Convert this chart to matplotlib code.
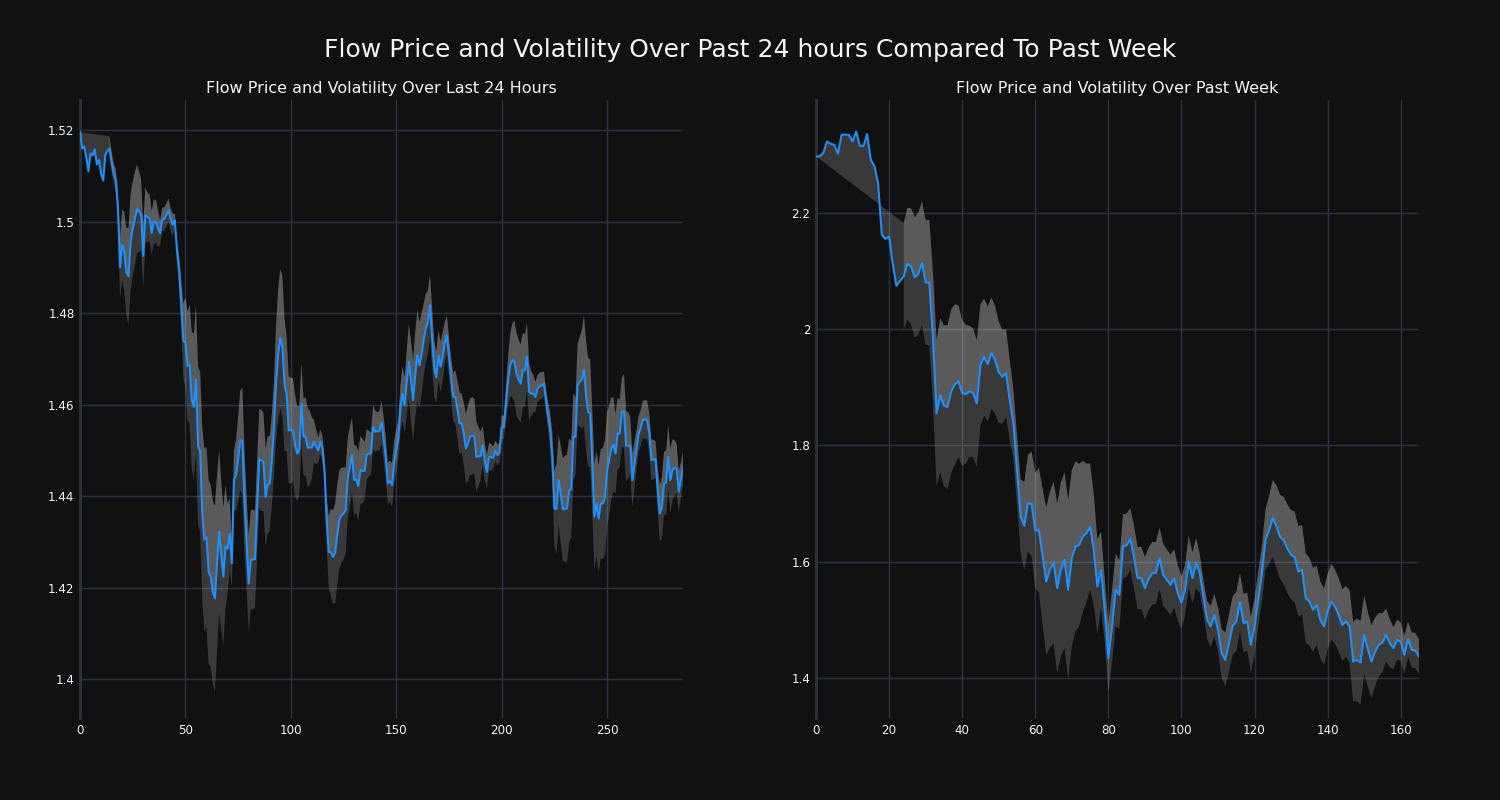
import numpy as np
import pandas as pd
import matplotlib
matplotlib.use('Agg')
import matplotlib.pyplot as plt
from matplotlib.ticker import FuncFormatter

# Flow price, 5 minute steps over the last 24 hours
day_price = [
    1.5196, 1.5160, 1.5164, 1.5140, 1.5110, 1.5149, 1.5145, 1.5158, 1.5125, 1.5135,
    1.5105, 1.5090, 1.5145, 1.5155, 1.5160, 1.5130, 1.5105, 1.5090, 1.5030, 1.4900,
    1.4949, 1.4935, 1.4890, 1.4880, 1.4955, 1.4985, 1.5005, 1.5028, 1.5022, 1.5014,
    1.4925, 1.5014, 1.5010, 1.5008, 1.4975, 1.5000, 1.5000, 1.4985, 1.4975, 1.5005,
    1.5006, 1.5015, 1.5025, 1.5005, 1.4993, 1.5003, 1.4935, 1.4895, 1.4820, 1.4740,
    1.4735, 1.4685, 1.4688, 1.4610, 1.4595, 1.4655, 1.4510, 1.4497, 1.4360, 1.4305,
    1.4310, 1.4235, 1.4224, 1.4190, 1.4176, 1.4255, 1.4322, 1.4270, 1.4224, 1.4289,
    1.4285, 1.4318, 1.4253, 1.4435, 1.4446, 1.4480, 1.4522, 1.4520, 1.4391, 1.4300,
    1.4209, 1.4260, 1.4262, 1.4262, 1.4370, 1.4482, 1.4478, 1.4475, 1.4398, 1.4424,
    1.4428, 1.4480, 1.4550, 1.4650, 1.4710, 1.4745, 1.4726, 1.4643, 1.4624, 1.4544,
    1.4544, 1.4544, 1.4511, 1.4493, 1.4500, 1.4603, 1.4530, 1.4530, 1.4506, 1.4506,
    1.4506, 1.4519, 1.4508, 1.4500, 1.4519, 1.4504, 1.4453, 1.4344, 1.4278, 1.4277,
    1.4267, 1.4275, 1.4315, 1.4348, 1.4358, 1.4362, 1.4369, 1.4439, 1.4465, 1.4490,
    1.4435, 1.4437, 1.4422, 1.4457, 1.4455, 1.4455, 1.4491, 1.4493, 1.4493, 1.4551,
    1.4541, 1.4542, 1.4542, 1.4561, 1.4526, 1.4486, 1.4428, 1.4433, 1.4424, 1.4475,
    1.4500, 1.4526, 1.4592, 1.4624, 1.4599, 1.4650, 1.4694, 1.4650, 1.4610, 1.4665,
    1.4708, 1.4686, 1.4710, 1.4741, 1.4767, 1.4780, 1.4817, 1.4748, 1.4679, 1.4660,
    1.4708, 1.4683, 1.4705, 1.4735, 1.4752, 1.4705, 1.4660, 1.4617, 1.4617, 1.4590,
    1.4559, 1.4560, 1.4537, 1.4504, 1.4515, 1.4530, 1.4532, 1.4531, 1.4486, 1.4487,
    1.4488, 1.4511, 1.4475, 1.4453, 1.4486, 1.4485, 1.4484, 1.4499, 1.4490, 1.4495,
    1.4551, 1.4550, 1.4600, 1.4650, 1.4685, 1.4697, 1.4695, 1.4668, 1.4655, 1.4646,
    1.4675, 1.4675, 1.4705, 1.4628, 1.4624, 1.4624, 1.4617, 1.4635, 1.4640, 1.4642,
    1.4646, 1.4610, 1.4575, 1.4544, 1.4486, 1.4373, 1.4372, 1.4435, 1.4405, 1.4371,
    1.4372, 1.4373, 1.4413, 1.4415, 1.4530, 1.4530, 1.4643, 1.4650, 1.4655, 1.4675,
    1.4620, 1.4584, 1.4581, 1.4470, 1.4355, 1.4384, 1.4351, 1.4384, 1.4384, 1.4398,
    1.4457, 1.4480, 1.4504, 1.4513, 1.4493, 1.4537, 1.4537, 1.4584, 1.4586, 1.4511,
    1.4510, 1.4510, 1.4435, 1.4470, 1.4504, 1.4537, 1.4550, 1.4568, 1.4567, 1.4567,
    1.4537, 1.4479, 1.4480, 1.4480, 1.4413, 1.4362, 1.4375, 1.4428, 1.4430, 1.4486,
    1.4435, 1.4457, 1.4462, 1.4460, 1.4410, 1.4435, 1.4461,
]

# Flow price, hourly over the past week
week_price = [
    2.297, 2.297, 2.303, 2.3227, 2.3187, 2.317, 2.3015, 2.3342, 2.3345, 2.334,
    2.3227, 2.340, 2.315, 2.315, 2.3354, 2.291, 2.2797, 2.2511, 2.162, 2.155,
    2.159, 2.112, 2.0744, 2.083, 2.0905, 2.1123, 2.108, 2.089, 2.095, 2.1135,
    2.080, 2.080, 1.985, 1.855, 1.886, 1.868, 1.866, 1.893, 1.905, 1.910,
    1.890, 1.888, 1.893, 1.890, 1.872, 1.938, 1.952, 1.940, 1.9586, 1.947,
    1.9253, 1.918, 1.9243, 1.8783, 1.838, 1.758, 1.6775, 1.6615, 1.7006, 1.6993,
    1.6535, 1.654, 1.6087, 1.5657, 1.586, 1.5985, 1.5543, 1.586, 1.603, 1.5514,
    1.606, 1.626, 1.6285, 1.6431, 1.6488, 1.6603, 1.6202, 1.557, 1.5858, 1.517,
    1.4339, 1.4883, 1.5514, 1.5427, 1.6259, 1.6285, 1.6385, 1.6087, 1.5716, 1.5716,
    1.5543, 1.570, 1.5801, 1.5801, 1.6059, 1.5772, 1.569, 1.560, 1.5716, 1.5457,
    1.5296, 1.5514, 1.6001, 1.5716, 1.5973, 1.5801, 1.540, 1.500, 1.4883, 1.5084,
    1.4826, 1.4425, 1.431, 1.4597, 1.4895, 1.4969, 1.5296, 1.4941, 1.497, 1.4568,
    1.4883, 1.5342, 1.578, 1.6374, 1.6546, 1.6746, 1.6603, 1.642, 1.6363, 1.6222,
    1.6116, 1.6076, 1.5829, 1.5858, 1.5371, 1.5314, 1.517, 1.525, 1.4998, 1.4883,
    1.5141, 1.5313, 1.5228, 1.5084, 1.4912, 1.497, 1.4883, 1.428, 1.431, 1.4264,
    1.474, 1.4494, 1.428, 1.4453, 1.4568, 1.4608, 1.474, 1.4597, 1.451, 1.4654,
    1.4625, 1.4396, 1.4666, 1.4482, 1.447, 1.4367,
]

day_window = 15
week_window = 25

day_xticks = [0, 50, 100, 150, 200, 250]
day_yticks = [1.4, 1.42, 1.44, 1.46, 1.48, 1.5, 1.52]
week_xticks = [0, 20, 40, 60, 80, 100, 120, 140, 160]
week_yticks = [1.4, 1.6, 1.8, 2.0, 2.2]

BG = '#111111'
GRID = '#283442'
TXT = '#f2f5fa'
LINE = '#1e90ff'

plt.rcParams['font.family'] = ['DejaVu Sans']

fig = plt.figure(figsize=(15, 8), dpi=100, facecolor=BG)


def draw_panel(ax, prices, window, ylim, xticks, yticks):
    s = pd.Series(prices, dtype=float)
    x = np.arange(len(s))
    sd = s.rolling(window).std()
    upper = (s + sd).values
    lower = (s - sd).values
    ok = sd.notna().values
    xo = x[ok]

    ax.set_facecolor(BG)
    # price -> upper band (the start joins straight to the first band value)
    ax.fill(np.r_[x, xo[::-1]], np.r_[s.values, upper[ok][::-1]],
            color='white', alpha=0.17, lw=0, zorder=2)
    # upper -> lower band
    ax.fill(np.r_[xo, xo[::-1]], np.r_[upper[ok], lower[ok][::-1]],
            color='white', alpha=0.17, lw=0, zorder=2)
    ax.plot(x, s.values, color=LINE, lw=1.45, zorder=3)

    ax.set_xlim(0, len(s) - 1)
    ax.set_ylim(*ylim)
    ax.set_xticks(xticks)
    ax.set_yticks(yticks)
    ax.yaxis.set_major_formatter(FuncFormatter(lambda v, p: '{:g}'.format(round(v, 4))))
    ax.grid(True, color=GRID, lw=1)
    ax.set_axisbelow(True)
    ax.axvline(0, color=GRID, lw=2, zorder=1, clip_on=False)
    ax.tick_params(length=0, labelsize=8.6, labelcolor=TXT, pad=4)
    for sp in ax.spines.values():
        sp.set_visible(False)


ax1 = fig.add_axes([80 / 1500, 82 / 800, 603 / 1500, 618 / 800])
ax2 = fig.add_axes([816 / 1500, 82 / 800, 603 / 1500, 618 / 800])

draw_panel(ax1, day_price, day_window, (1.3915, 1.5266), day_xticks, day_yticks)
draw_panel(ax2, week_price, week_window, (1.331, 2.394), week_xticks, week_yticks)

fig.text(0.5, 1 - 50 / 800, 'Flow Price and Volatility Over Past 24 hours Compared To Past Week',
         ha='center', va='center', color=TXT, fontsize=18)
fig.text(381.5 / 1500, 1 - 89 / 800, 'Flow Price and Volatility Over Last 24 Hours',
         ha='center', va='center', color=TXT, fontsize=11.5)
fig.text(1117.5 / 1500, 1 - 89 / 800, 'Flow Price and Volatility Over Past Week',
         ha='center', va='center', color=TXT, fontsize=11.5)

fig.savefig('out.png', dpi=100, facecolor=BG)
